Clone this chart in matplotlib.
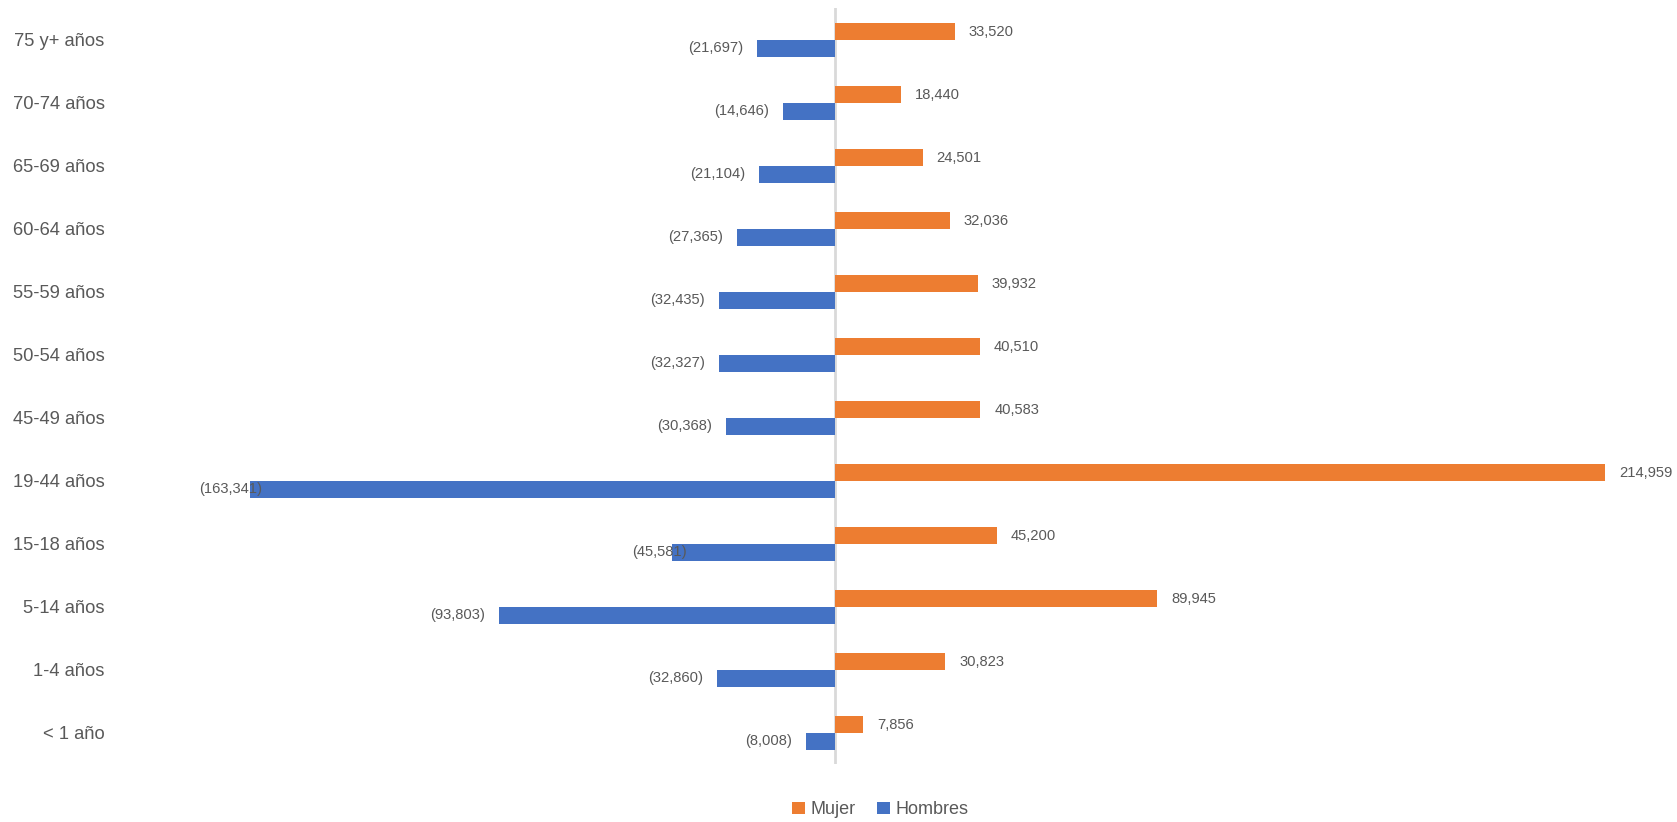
import matplotlib.pyplot as plt
import numpy as np

plt.rcParams['font.family'] = ['Liberation Sans', 'DejaVu Sans']

# datos (de arriba hacia abajo)
categorias = ["75 y+ años", "70-74 años", "65-69 años", "60-64 años", "55-59 años",
              "50-54 años", "45-49 años", "19-44 años", "15-18 años", "5-14 años",
              "1-4 años", "< 1 año"]
mujer = [33520, 18440, 24501, 32036, 39932, 40510, 40583, 214959, 45200, 89945, 30823, 7856]
hombres = [-21697, -14646, -21104, -27365, -32435, -32327, -30368, -163341, -45581, -93803,
           -32860, -8008]

# en el original dos etiquetas quedan encima de la barra
desplaza_etiqueta = {"19-44 años": 8.6, "15-18 años": 10.8}

color_mujer = '#ED7D31'
color_hombres = '#4472C4'
color_texto = '#595959'

fig = plt.figure(figsize=(16.77, 8.22), dpi=100)
ax = fig.add_axes([0.0707, 0.070, 0.9078, 0.9197])

y = np.arange(len(categorias))
alto = 0.265

ax.barh(y - alto / 2, mujer, height=alto, color=color_mujer, label='Mujer')
ax.barh(y + alto / 2, hombres, height=alto, color=color_hombres, label='Hombres')

for i, cat in enumerate(categorias):
    ax.annotate(f"{mujer[i]:,}", (mujer[i], y[i] - alto / 2), xytext=(10, 0),
                textcoords='offset points', ha='left', va='center',
                fontsize=10.6, color=color_texto)
    dx = desplaza_etiqueta.get(cat, -10)
    ax.annotate(f"({abs(hombres[i]):,})", (hombres[i], y[i] + alto / 2), xytext=(dx, 0),
                textcoords='offset points', ha='right', va='center',
                fontsize=10.6, color=color_texto)

ax.axvline(0, color='#D9D9D9', linewidth=2, zorder=0)

ax.set_xlim(-200000, 225000)
ax.set_ylim(len(categorias) - 0.5, -0.5)
ax.set_yticks(y)
ax.set_yticklabels(categorias, fontsize=13.2, color=color_texto)
ax.tick_params(axis='y', length=0, pad=10)
ax.set_xticks([])
for s in ax.spines.values():
    s.set_visible(False)

fig.legend(loc='center', bbox_to_anchor=(0.525, 0.0146), ncol=2, frameon=False,
           fontsize=13, labelcolor=color_texto, handlelength=0.7, handleheight=0.7,
           handletextpad=0.3, columnspacing=1.2)

fig.savefig('out.png', dpi=100)
